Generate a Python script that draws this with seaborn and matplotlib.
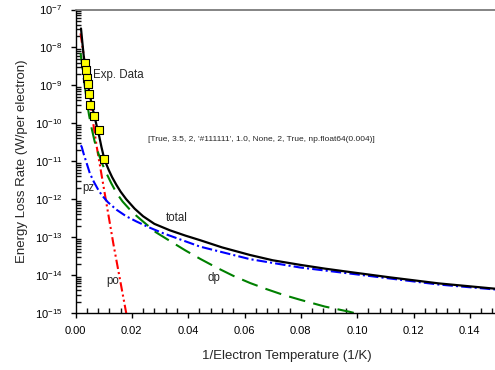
import numpy as np
import pandas as pd
import matplotlib
matplotlib.use("Agg")
import matplotlib.pyplot as plt
from matplotlib.ticker import MultipleLocator, LogLocator, FuncFormatter, NullFormatter
import seaborn as sns

# ---- data ----
total_x = [0.00195, 0.0025, 0.003, 0.0038, 0.0045, 0.0053, 0.006, 0.0069, 0.0077, 0.0085,
           0.0092, 0.0099, 0.0108, 0.0118, 0.013, 0.0145, 0.016, 0.018, 0.021, 0.024,
           0.028, 0.0335, 0.039, 0.0442, 0.052, 0.0619, 0.07, 0.0797, 0.0885, 0.0974,
           0.1116, 0.129, 0.149]
total_logy = [-7.50, -7.92, -8.28, -8.72, -9.03, -9.33, -9.58, -9.87, -10.12, -10.37,
              -10.62, -10.84, -11.05, -11.23, -11.42, -11.62, -11.80, -12.00, -12.25, -12.45,
              -12.65, -12.82, -12.96, -13.08, -13.27, -13.47, -13.61, -13.73, -13.83, -13.92,
              -14.06, -14.22, -14.36]

po_x = [0.0018, 0.003, 0.0045, 0.006, 0.0075, 0.009, 0.0105, 0.012, 0.0135, 0.015,
        0.0165, 0.018, 0.0186]
po_logy = [-7.63, -8.25, -9.05, -9.85, -10.60, -11.25, -11.90, -12.55, -13.20, -13.80,
           -14.40, -15.00, -15.25]

dp_x = [0.0018, 0.0025, 0.003, 0.004, 0.0048, 0.0057, 0.0068, 0.0081, 0.0095, 0.011,
        0.0127, 0.0146, 0.0167, 0.019, 0.0215, 0.024, 0.0285, 0.0335, 0.039, 0.0442,
        0.05, 0.056, 0.062, 0.0678, 0.0737, 0.0797, 0.0885, 0.0974, 0.1]
dp_logy = [-8.15, -8.55, -8.85, -9.40, -9.78, -10.12, -10.48, -10.79, -11.07, -11.32,
           -11.58, -11.84, -12.06, -12.25, -12.43, -12.59, -12.87, -13.10, -13.35, -13.57,
           -13.80, -14.02, -14.21, -14.37, -14.52, -14.65, -14.83, -14.97, -15.02]

pz_x = [0.0019, 0.0022, 0.003, 0.004, 0.0051, 0.0065, 0.0079, 0.0093, 0.0115, 0.0146,
        0.018, 0.0217, 0.026, 0.0312, 0.0442, 0.0619, 0.0797, 0.0974, 0.1116, 0.129, 0.149]
pz_logy = [-10.58, -10.62, -10.83, -11.06, -11.32, -11.54, -11.73, -11.89, -12.08, -12.28,
           -12.45, -12.59, -12.74, -12.90, -13.25, -13.58, -13.80, -13.96, -14.09, -14.25,
           -14.38]

exp_x = [0.0032, 0.0036, 0.0041, 0.0045, 0.0049, 0.0052, 0.0066, 0.0083, 0.0100]
exp_y = [3.8e-9, 2.6e-9, 1.55e-9, 1.1e-9, 5.9e-10, 3.0e-10, 1.6e-10, 6.5e-11, 1.15e-11]

x_ticks = [0.00, 0.02, 0.04, 0.06, 0.08, 0.10, 0.12, 0.14]
y_ticks = [1e-15, 1e-14, 1e-13, 1e-12, 1e-11, 1e-10, 1e-9, 1e-8, 1e-7]

total_y = [10.0 ** v for v in total_logy]
po_y = [10.0 ** v for v in po_logy]
dp_y = [10.0 ** v for v in dp_logy]
pz_y = [10.0 ** v for v in pz_logy]

# ---- style ----
sns.set_style("ticks")
plt.rcParams["font.family"] = ["Liberation Sans", "DejaVu Sans"]
plt.rcParams["mathtext.default"] = "regular"

fig = plt.figure(figsize=(4.95, 3.70), dpi=100)
ax = fig.add_axes([75.5 / 495, 57 / 370, (498 - 75.5) / 495, (313 - 9.5) / 370])

lw = 1.5
sns.lineplot(x=po_x, y=po_y, ax=ax, color="#ff0000", lw=lw, sort=False, estimator=None,
             linestyle=(0, (4.5, 1.5, 1, 1.5, 1, 1.5)))
sns.lineplot(x=dp_x, y=dp_y, ax=ax, color="#008000", lw=lw, sort=False, estimator=None,
             linestyle=(0, (8, 4)))
sns.lineplot(x=pz_x, y=pz_y, ax=ax, color="#0000ff", lw=lw, sort=False, estimator=None,
             linestyle=(0, (5, 1.5, 1, 1.5)))
sns.lineplot(x=total_x, y=total_y, ax=ax, color="black", lw=1.6, sort=False, estimator=None)
sns.scatterplot(x=exp_x, y=exp_y, ax=ax, marker="s", s=30, color="#ffff00",
                edgecolor="black", linewidth=0.8, zorder=5)

ax.set_yscale("log")
ax.set_xlim(0, 0.15)
ax.set_ylim(1e-15, 1e-7)

for s in ["left", "bottom"]:
    ax.spines[s].set_color("black")
    ax.spines[s].set_linewidth(1.0)
ax.spines["top"].set_visible(True)
ax.spines["top"].set_color("#707070")
ax.spines["top"].set_linewidth(1.2)
ax.spines["right"].set_visible(False)

ax.set_xlabel("1/Electron Temperature (1/K)", fontsize=9.5, labelpad=10)
ax.set_ylabel("Energy Loss Rate (W/per electron)", fontsize=9.5, labelpad=5)

fs = 8.3
ax.text(0.0062, 10 ** -8.73, "Exp. Data", fontsize=fs, va="center", ha="left")
ax.text(0.0023, 10 ** -11.70, "pz", fontsize=fs, va="center", ha="left")
ax.text(0.032, 10 ** -12.5, "total", fontsize=fs, va="center", ha="left")
ax.text(0.0108, 10 ** -14.15, "po", fontsize=fs, va="center", ha="left")
ax.text(0.047, 10 ** -14.08, "dp", fontsize=fs, va="center", ha="left")

ax.set_xticks(x_ticks)
ax.xaxis.set_minor_locator(MultipleLocator(0.004))
ax.xaxis.set_major_formatter(FuncFormatter(lambda v, p: f"{v:.2f}"))
ax.set_yticks(y_ticks)
ax.yaxis.set_minor_locator(LogLocator(base=10, subs=np.arange(2, 10), numticks=20))
ax.yaxis.set_minor_formatter(NullFormatter())
ax.yaxis.set_major_formatter(FuncFormatter(lambda v, p: f"10$^{{{int(round(np.log10(v)))}}}$"))

ax.tick_params(which="major", direction="out", length=3.5, width=1.0, labelsize=8,
               colors="black", pad=6)
ax.tick_params(which="minor", direction="in", length=3.5, width=1.0, colors="#111111")

fig.canvas.draw()
tk = ax.xaxis.get_minor_ticks()[1]
l = tk.tick1line
info = [l.get_visible(), l.get_markersize(), l.get_marker(), l.get_color(),
        l.get_markeredgewidth(), l.get_alpha(), l.get_zorder(), tk.get_visible(),
        ax.xaxis.minorTicks[1].get_loc()]
fig.text(0.3, 0.62, str(info), fontsize=6)

fig.savefig("out.png", dpi=100)
